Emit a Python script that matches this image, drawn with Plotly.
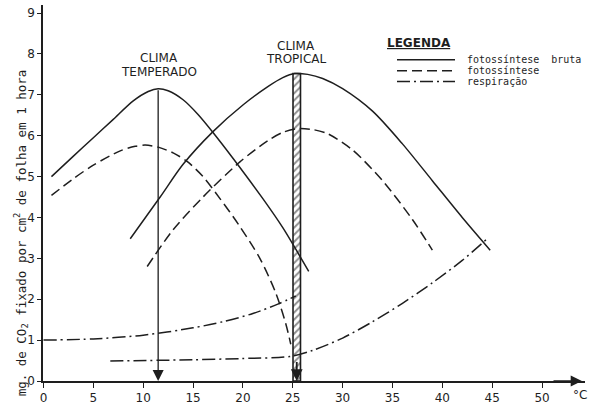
import plotly.graph_objects as go

# ---------------- data ----------------
# Clima temperado
temp_gross_x = [0.8, 3, 5, 7, 9, 10.5, 11.5, 12.5, 14, 15.5, 17, 19, 22, 24, 26.6]
temp_gross_y = [5.0, 5.5, 5.95, 6.4, 6.85, 7.08, 7.15, 7.1, 6.88, 6.52, 6.08, 5.45, 4.46, 3.75, 2.68]

temp_net_x = [0.8, 3, 5, 7.7, 9.2, 10.2, 11.5, 13, 14.4, 16, 17.7, 19.5, 21.7, 23.3, 24.3, 24.8]
temp_net_y = [4.54, 4.95, 5.28, 5.63, 5.74, 5.77, 5.72, 5.58, 5.37, 5.0, 4.46, 3.85, 3.0, 2.15, 1.4, 0.9]

temp_resp_x = [0, 5, 10, 15, 18, 21, 23.5, 25.3]
temp_resp_y = [1.0, 1.03, 1.12, 1.3, 1.45, 1.65, 1.88, 2.08]

# Clima tropical
trop_gross_x = [8.7, 11.7, 14, 17, 20, 22.5, 24, 25.2, 26.5, 28, 30, 33, 36, 39, 42, 44.8]
trop_gross_y = [3.48, 4.5, 5.3, 6.1, 6.75, 7.2, 7.42, 7.52, 7.5, 7.4, 7.15, 6.6, 5.8, 4.9, 4.0, 3.2]

trop_net_x = [10.4, 13, 16, 19.7, 22.5, 24, 25.4, 27, 28.5, 31, 34, 37, 39]
trop_net_y = [2.8, 3.7, 4.5, 5.36, 5.88, 6.08, 6.17, 6.15, 6.05, 5.65, 4.9, 3.95, 3.2]

trop_resp_x = [6.7, 15, 20, 24.7, 27, 30, 33, 36, 39, 42, 44.6]
trop_resp_y = [0.49, 0.52, 0.55, 0.6, 0.75, 1.05, 1.45, 1.9, 2.4, 2.95, 3.5]

# optimum temperatures and peaks
temp_opt_x, temp_opt_y = 11.5, 7.15
trop_opt_x, trop_opt_y = 25.4, 7.52

x_ticks = [0, 5, 10, 15, 20, 25, 30, 35, 40, 45, 50]
y_ticks = [0, 1, 2, 3, 4, 5, 6, 7, 8, 9]

legend_labels = ["fotossíntese\u00a0\u00a0bruta", "fotossíntese", "respiração"]

# ---------------- styles ----------------
INK = "#1e1e1e"
SOLID = "solid"
DASH = "10px,5px"
DASHDOT = "13px,4px,2px,4px"
LW = 1.5

fig = go.Figure()

def curve(x, y, dash):
    fig.add_trace(go.Scatter(x=x, y=y, mode="lines",
                             line=dict(color=INK, width=LW, dash=dash, shape="spline", smoothing=0.8),
                             showlegend=False, hoverinfo="skip"))

curve(temp_gross_x, temp_gross_y, SOLID)
curve(temp_net_x, temp_net_y, DASH)
curve(temp_resp_x, temp_resp_y, DASHDOT)
curve(trop_gross_x, trop_gross_y, SOLID)
curve(trop_net_x, trop_net_y, DASH)
curve(trop_resp_x, trop_resp_y, DASHDOT)

# hatched bar (tropical optimum)
fig.add_trace(go.Bar(x=[trop_opt_x], y=[trop_opt_y], width=[0.75],
                     marker=dict(color="white", line=dict(color=INK, width=1.6),
                                 pattern=dict(shape="/", fgcolor=INK, bgcolor="white", size=5, solidity=0.4)),
                     showlegend=False, hoverinfo="skip"))

annotations = []
# temperate optimum arrow
annotations.append(dict(x=temp_opt_x, y=0, ax=temp_opt_x, ay=temp_opt_y, xref="x", yref="y", axref="x", ayref="y",
                        text="", showarrow=True, arrowhead=2, arrowsize=1.7, arrowwidth=1.3, arrowcolor=INK, standoff=0))
# tropical optimum arrow head
annotations.append(dict(x=trop_opt_x, y=0, ax=trop_opt_x, ay=0.5, xref="x", yref="y", axref="x", ayref="y",
                        text="", showarrow=True, arrowhead=2, arrowsize=1.3, arrowwidth=1.8, arrowcolor=INK, standoff=0))
# x-axis arrow head
annotations.append(dict(x=54.0, y=0, ax=51, ay=0, xref="x", yref="y", axref="x", ayref="y",
                        text="", showarrow=True, arrowhead=2, arrowsize=1.6, arrowwidth=1.4, arrowcolor=INK, standoff=0))

TF = dict(family="DejaVu Sans", size=12, color=INK)
annotations += [
    dict(x=11.6, y=7.89, xref="x", yref="y", text="CLIMA", showarrow=False, font=TF),
    dict(x=11.6, y=7.57, xref="x", yref="y", text="TEMPERADO", showarrow=False, font=TF),
    dict(x=25.3, y=8.19, xref="x", yref="y", text="CLIMA", showarrow=False, font=TF),
    dict(x=25.3, y=7.87, xref="x", yref="y", text="TROPICAL", showarrow=False, font=TF),
]

# axis titles
annotations.append(dict(x=-0.039, y=0.395, xref="paper", yref="paper",
                        text="mg. de CO<sub>2</sub> fixado por cm<sup>2</sup> de folha em 1 hora",
                        textangle=-90, showarrow=False, font=dict(family="DejaVu Sans Mono", size=12.5, color=INK),
                        xanchor="center", yanchor="middle"))
annotations.append(dict(x=0.991, y=-0.037, xref="paper", yref="paper", text="°C", showarrow=False,
                        font=dict(family="DejaVu Sans", size=12, color=INK), xanchor="center", yanchor="middle"))

# legend (drawn manually)
PW, PH, L, T = 542, 378, 43, 5
def px(xp): return (xp - L) / PW
def py(yp): return (T + PH - yp) / PH

annotations.append(dict(x=px(385), y=py(43), xref="paper", yref="paper", text="<b><u>LEGENDA</u></b>", showarrow=False,
                        xanchor="left", yanchor="middle", font=dict(family="DejaVu Sans", size=12, color=INK)))
shapes = []
for lab, dash, yy in zip(legend_labels, [SOLID, DASH, DASHDOT], [60, 71, 82]):
    shapes.append(dict(type="line", xref="paper", yref="paper", x0=px(397), x1=px(455), y0=py(yy), y1=py(yy),
                       line=dict(color=INK, width=LW, dash=dash)))
    annotations.append(dict(x=px(465), y=py(yy), xref="paper", yref="paper", text=lab, showarrow=False,
                            xanchor="left", yanchor="middle", font=dict(family="DejaVu Sans Mono", size=10, color=INK)))

fig.update_layout(
    width=589, height=409,
    margin=dict(l=43, r=4, t=5, b=26),
    paper_bgcolor="white", plot_bgcolor="white",
    annotations=annotations, shapes=shapes,
    showlegend=False,
    xaxis=dict(range=[-0.05, 54.31], tickvals=x_ticks, ticks="outside", ticklen=5, tickwidth=1.3, tickcolor=INK,
               showline=True, linecolor=INK, linewidth=1.5, showgrid=False, zeroline=False,
               tickfont=dict(family="DejaVu Sans", size=12, color=INK)),
    yaxis=dict(range=[0, 9.197], tickvals=y_ticks, ticks="outside", ticklen=4, tickwidth=1.3, tickcolor=INK,
               showline=True, linecolor=INK, linewidth=1.5, showgrid=False, zeroline=False,
               tickfont=dict(family="DejaVu Sans", size=12, color=INK)),
)

fig.write_html("out.html", config={"displayModeBar": False},
               post_script="document.body.style.margin='0';document.body.style.overflow='hidden';")
